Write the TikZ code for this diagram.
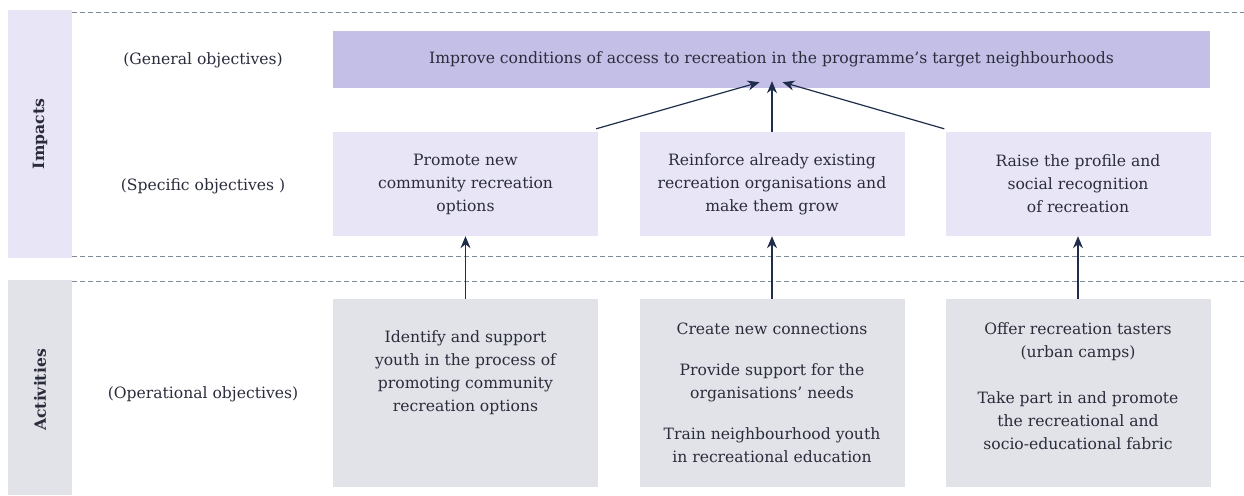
\documentclass[tikz,border=0pt]{standalone}
\usepackage{fontspec}
\setmainfont{DejaVu Serif}
\usetikzlibrary{positioning,arrows.meta}

\definecolor{inktext}{HTML}{2A2C3C}
\definecolor{arrowink}{HTML}{1F2D4A}
\definecolor{dashgray}{HTML}{7F8A98}
\definecolor{genfill}{HTML}{C3BFE6}
\definecolor{specfill}{HTML}{E8E6F6}
\definecolor{opfill}{HTML}{E1E3E8}

\begin{document}
\begin{tikzpicture}[x=1pt,y=-1pt,every node/.style={font=\fontsize{15.6}{23}\selectfont,text=inktext,inner sep=0pt},
    sidetitle/.style={rotate=90,font=\fontsize{15.6}{23}\selectfont\bfseries},
    rowlabel/.style={align=center},
    genbox/.style={fill=genfill,minimum width=877pt,minimum height=57pt},
    specbox/.style={fill=specfill,minimum width=265pt,minimum height=104pt,align=center},
    opbox/.style={fill=opfill,minimum width=265pt,minimum height=188pt},
    optext/.style={align=center},
    dashline/.style={draw=dashgray,dash pattern=on 5pt off 3pt,line width=0.8pt},
    uparrow/.style={draw=arrowink,line width=1.2pt,-{Stealth[length=12pt,width=10pt]}}]
  \useasboundingbox (0,0) rectangle (1244,495);

  % side bands
  \fill[specfill] (8,10) rectangle (72,258);
  \fill[opfill] (8,280) rectangle (72,495);
  \node[sidetitle] (impacts) at (40,134) {Impacts};
  \node[sidetitle] (activities) at (40,390) {Activities};

  % row separators
  \draw[dashline] (72,12) -- (1244,12);
  \draw[dashline] (72,256) -- (1244,256);
  \draw[dashline] (72,281) -- (1244,281);

  % row labels
  \node[rowlabel] (genlabel) at (203,60) {(General objectives)};
  \node[rowlabel] (speclabel) at (203,186) {(Specific objectives )};
  \node[rowlabel] (oplabel) at (203,394) {(Operational objectives)};

  % general objective
  \node[genbox] (gen) at (771.5,59.5) {Improve conditions of access to recreation in the programme’s target neighbourhoods};

  % specific objectives
  \node[specbox] (spec1) at (465.5,184) {Promote new\\community recreation\\options};
  \node[specbox] (spec2) at (772,184) {Reinforce already existing\\recreation organisations and\\make them grow};
  \node[specbox] (spec3) at (1078,184) {Raise the profile and\\social recognition\\of recreation};

  % operational objectives
  \node[opbox] (op1) at (465.5,393) {};
  \node[opbox] (op2) at (772,393) {};
  \node[opbox] (op3) at (1078,393) {};
  \node[optext,below=32pt of op1.north] (op1text) {Identify and support\\youth in the process of\\promoting community\\recreation options};
  \node[optext,below=24pt of op2.north] (op2text) {Create new connections\\[18pt]Provide support for the\\organisations’ needs\\[18pt]Train neighbourhood youth\\in recreational education};
  \node[optext,below=24pt of op3.north] (op3text) {Offer recreation tasters\\(urban camps)\\[23pt]Take part in and promote\\the recreational and\\socio-educational fabric};

  % arrows
  \coordinate (tipl) at ([shift={(-12,-6)}]gen.south);
  \coordinate (tipm) at ([shift={(0.5,-7)}]gen.south);
  \coordinate (tipr) at ([shift={(11,-6)}]gen.south);
  \draw[uparrow] ([shift={(-2,-3)}]spec1.north east) -- (tipl);
  \draw[uparrow] (spec2.north) -- (tipm);
  \draw[uparrow] ([shift={(-1,-3)}]spec3.north west) -- (tipr);
  \draw[uparrow] (op1.north) -- (spec1.south);
  \draw[uparrow] (op2.north) -- (spec2.south);
  \draw[uparrow] (op3.north) -- (spec3.south);
\end{tikzpicture}
\end{document}
